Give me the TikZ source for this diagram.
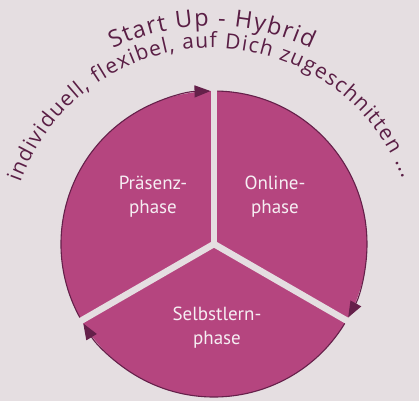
\documentclass[tikz,border=0pt]{standalone}
\usepackage{fontspec}
\setmainfont{PT Sans}
\newfontfamily\arcfamily{Open Sans}
\usetikzlibrary{arrows.meta,decorations.text}
\definecolor{bgback}{HTML}{E5DEE1}
\definecolor{piefill}{HTML}{B5457F}
\definecolor{rimdark}{HTML}{65204A}
\definecolor{titletext}{HTML}{5A1E45}
\definecolor{phasetext}{HTML}{F6EEF3}
\def\rad{153}
\newcommand\titlefont{\arcfamily\fontsize{23.5bp}{27bp}\selectfont}
\newcommand\subfont{\arcfamily\fontsize{21bp}{25bp}\selectfont}

\begin{document}
\begin{tikzpicture}[x=1bp, y=1bp,
    sector/.style={fill=piefill},
    gap/.style={draw=bgback, line width=6.5bp},
    rim/.style={draw=rimdark, line width=1.1bp, -{Triangle[length=16bp,width=12bp]}},
    phase/.style={align=center, text=phasetext, font=\fontsize{19bp}{24bp}\selectfont, inner sep=0pt}]
  \useasboundingbox (0,0) rectangle (419,401);
  \fill[bgback] (0,0) rectangle (419,401);
  \coordinate (m) at (214,157);
  \coordinate (t) at (212,149);
  \fill[sector] (m) circle[radius=\rad];
  \foreach \a in {90,-30,210}
    \draw[gap] (m) -- ([shift={(\a:\rad+4)}]m);
  \foreach \s/\e in {208.7/91.3, 88.7/-28.7, -31.3/-148.7}
    \draw[rim] ([shift={(\s:\rad)}]m) arc[start angle=\s, end angle=\e, radius=\rad];
  \node[phase] (praesenz) at (153,204) {Präsenz-\\phase};
  \node[phase] (online) at (275,204) {Online-\\phase};
  \node[phase] (selbst) at (217,73) {Selbstlern-\\phase};
  \path[decorate, decoration={text along path, text align=fit to path, text color=titletext,
      text={|\titlefont|Start Up - Hybrid}}]
    ([shift={(116:226)}]t) arc[start angle=116, end angle=64, radius=226];
  \path[decorate, decoration={text along path, text align=fit to path, text color=titletext,
      text={|\subfont|individuell, flexibel, auf Dich zugeschnitten ...}}]
    ([shift={(160:204)}]t) arc[start angle=160, end angle=21, radius=204];
\end{tikzpicture}
\end{document}
